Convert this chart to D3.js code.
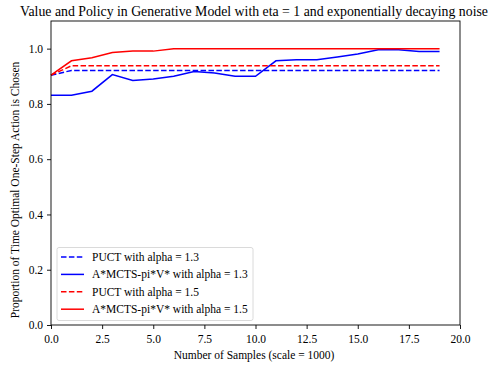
<!DOCTYPE html>
<html><head><meta charset="utf-8">
<script src="https://cdn.jsdelivr.net/npm/d3@7"></script>
<style>body{margin:0;background:#fff;} svg{display:block;} text{font-family:"Liberation Serif","Times New Roman",serif;}</style>
</head><body>
<svg id="c" width="492" height="366"></svg>
<script>
const samples = [0,1,2,3,4,5,6,7,8,9,10,11,12,13,14,15,16,17,18,19];
const puct13 = [0.904,0.921,0.921,0.921,0.921,0.921,0.921,0.921,0.921,0.921,0.921,0.921,0.921,0.921,0.921,0.921,0.921,0.921,0.921,0.921];
const astar13 = [0.831,0.831,0.846,0.906,0.885,0.890,0.900,0.917,0.912,0.900,0.900,0.956,0.960,0.960,0.970,0.981,0.996,0.996,0.990,0.990];
const puct15 = [0.904,0.938,0.938,0.938,0.938,0.938,0.938,0.938,0.938,0.938,0.938,0.938,0.938,0.938,0.938,0.938,0.938,0.938,0.938,0.938];
const astar15 = [0.904,0.956,0.967,0.986,0.991,0.991,1.0,1.0,1.0,1.0,1.0,1.0,1.0,1.0,1.0,1.0,1.0,1.0,1.0,1.0];
const xTicks = [0,2.5,5,7.5,10,12.5,15,17.5,20];
const yTicks = [0,0.2,0.4,0.6,0.8,1.0];
const seriesNames = ["PUCT with alpha = 1.3","A*MCTS-pi*V* with alpha = 1.3","PUCT with alpha = 1.5","A*MCTS-pi*V* with alpha = 1.5"];

const svg = d3.select("#c");
const L=51, R=460, T=21, B=325;
const x = d3.scaleLinear().domain([0,20]).range([L,R]);
const y = d3.scaleLinear().domain([0,1.1]).range([B,T]);
const FS = 11.5;

const series = [
  {name:seriesNames[0], vals:puct13, color:"#0000ff", dash:"5.5,2.4"},
  {name:seriesNames[1], vals:astar13, color:"#0000ff", dash:null},
  {name:seriesNames[2], vals:puct15, color:"#ff0000", dash:"5.5,2.4"},
  {name:seriesNames[3], vals:astar15, color:"#ff0000", dash:null},
];
const line = d3.line().x((d,i)=>x(samples[i])).y(d=>y(d));
series.forEach(s=>{
  svg.append("path").attr("d", line(s.vals)).attr("fill","none")
    .attr("stroke",s.color).attr("stroke-width",1.5)
    .attr("stroke-dasharray", s.dash);
});

// frame
svg.append("rect").attr("x",L).attr("y",T).attr("width",R-L).attr("height",B-T)
  .attr("fill","none").attr("stroke","#000").attr("stroke-width",0.9);

const xa = svg.append("g").attr("transform",`translate(0,${B})`)
  .call(d3.axisBottom(x).tickValues(xTicks).tickFormat(d3.format(".1f")).tickSize(4).tickPadding(6));
const ya = svg.append("g").attr("transform",`translate(${L},0)`)
  .call(d3.axisLeft(y).tickValues(yTicks).tickFormat(d3.format(".1f")).tickSize(4).tickPadding(4));
[xa,ya].forEach(a=>{
  a.select(".domain").remove();
  a.selectAll("line").attr("stroke","#000").attr("stroke-width",0.9);
  a.selectAll("text").attr("font-size",FS).attr("fill","#000").style("font-family",'"Liberation Serif",serif');
});

svg.append("text").attr("x",254).attr("y",16).attr("text-anchor","middle")
  .attr("font-size",13.8).text("Value and Policy in Generative Model with eta = 1 and exponentially decaying noise");
svg.append("text").attr("x",254).attr("y",359).attr("text-anchor","middle")
  .attr("font-size",FS).text("Number of Samples (scale = 1000)");
svg.append("text").attr("transform",`translate(19,190) rotate(-90)`).attr("text-anchor","middle")
  .attr("font-size",FS).text("Proportion of Time Optimal One-Step Action is Chosen");

// legend
const lg = svg.append("g");
lg.append("rect").attr("x",57).attr("y",247.5).attr("width",196).attr("height",73).attr("rx",2)
  .attr("fill","#fff").attr("fill-opacity",0.8).attr("stroke","#d0d0d0").attr("stroke-width",0.8);
series.forEach((s,i)=>{
  const yy = 257 + i*17.4;
  lg.append("line").attr("x1",61).attr("x2",84).attr("y1",yy).attr("y2",yy)
    .attr("stroke",s.color).attr("stroke-width",1.5).attr("stroke-dasharray",s.dash);
  lg.append("text").attr("x",92).attr("y",yy+4).attr("font-size",FS).text(s.name);
});
</script>
</body></html>
